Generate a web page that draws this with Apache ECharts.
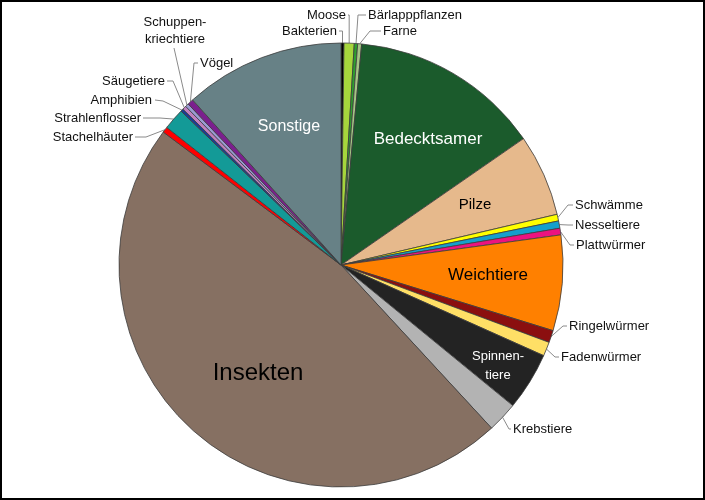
<!DOCTYPE html>
<html><head><meta charset="utf-8">
<script src="https://cdn.jsdelivr.net/npm/echarts@6/dist/echarts.min.js"></script>
<style>html,body{margin:0;padding:0;background:#fff}#c{width:705px;height:500px}</style>
</head><body><div id="c"></div>
<script>
// Categories in clockwise order starting at 12 o'clock
const categories = ['Bakterien','Moose','Bärlapppflanzen','Farne','Bedecktsamer','Pilze','Schwämme','Nesseltiere','Plattwürmer','Weichtiere','Ringelwürmer','Fadenwürmer','Spinnentiere','Krebstiere','Insekten','Stachelhäuter','Strahlenflosser','Amphibien','Säugetiere','Schuppenkriechtiere','Vögel','Sonstige'];
// Label texts as shown
const labelTexts = ['Bakterien','Moose','Bärlapppflanzen','Farne','Bedecktsamer','Pilze','Schwämme','Nesseltiere','Plattwürmer','Weichtiere','Ringelwürmer','Fadenwürmer','Spinnen-\ntiere','Krebstiere','Insekten','Stachelhäuter','Strahlenflosser','Amphibien','Säugetiere','Schuppen-\nkriechtiere','Vögel','Sonstige'];
// Estimated shares
const values = [0.78,2.66,0.88,1.03,49.95,21.5,1.75,1.91,1.74,25.0,3.2,3.7,15.2,8.0,169.5,1.5,5.6,0.7,1.0,0.9,1.55,41.95];

const colors = ['#000000','#a6d63c','#2e9e2e','#a5c585','#1b5b2c','#e6b98c','#ffff00','#14a0cc','#ec1380','#ff8000','#8b0f0f','#ffdf66','#232323','#b3b3b3','#867062','#ff0000','#139a97','#1a3c96','#c080c0','#9b9bd3','#7b1f8e','#678186'];

const CX = 341, CY = 265, R = 222;

// label placement (text anchor, alignment, leader elbow points; null x = anchor x)
const insideLabels = {
  'Bedecktsamer': {x:428, y:139, size:17, color:'#ffffff'},
  'Pilze': {x:475, y:205, size:15, color:'#000000'},
  'Weichtiere': {x:488, y:275, size:17, color:'#000000'},
  'Spinnentiere': {x:498, y:366, size:13, color:'#ffffff', lh:19},
  'Insekten': {x:258, y:373, size:24, color:'#000000'},
  'Sonstige': {x:289, y:127, size:16, color:'#ffffff'}
};
const outsideLabels = {
  'Bakterien': {x:337, y:31, align:'right', line:[[null,31],[339,31]]},
  'Moose': {x:346, y:15, align:'right', line:[[null,15],[348,15]]},
  'Bärlapppflanzen': {x:368, y:15, align:'left', line:[[358,15],[366,15]]},
  'Farne': {x:383, y:31, align:'left', line:[[370,31],[381,31]]},
  'Schwämme': {x:575, y:205, align:'left', line:[[568,205],[573,205]]},
  'Nesseltiere': {x:575, y:225, align:'left', line:[[568,225],[573,225]]},
  'Plattwürmer': {x:576, y:245, align:'left', line:[[570,245],[574,245]]},
  'Ringelwürmer': {x:569, y:326, align:'left', line:[[563,326],[567,326]]},
  'Fadenwürmer': {x:561, y:357, align:'left', line:[[555,357],[559,357]]},
  'Krebstiere': {x:513, y:429, align:'left', line:[[509,429],[511,429]]},
  'Stachelhäuter': {x:133, y:137, align:'right', line:[[146,137],[135,137]]},
  'Strahlenflosser': {x:141, y:118, align:'right', line:[[160,118],[143,118]]},
  'Amphibien': {x:152, y:100, align:'right', line:[[163,101],[155,100]]},
  'Säugetiere': {x:165, y:81, align:'right', line:[[173,81],[167,81]]},
  'Schuppenkriechtiere': {x:175, y:31, align:'center', line:[[174,48]]},
  'Vögel': {x:200, y:63, align:'left', line:[[194,63],[198,63]]}
};

const total = values.reduce((a,b)=>a+b,0);
function anchorOf(i){
  let s = 0;
  for (let k=0;k<i;k++) s += values[k];
  const mid = (s + values[i]/2) / total * 2 * Math.PI;
  return [CX + R*Math.sin(mid), CY - R*Math.cos(mid)];
}

const FONT = '"Liberation Sans", Arial, sans-serif';
const data = categories.map((name,i)=>{
  const ins = insideLabels[name];
  const item = {name, value: values[i], itemStyle:{color: colors[i]}};
  if (ins) {
    item.label = {show:true, position:'inside', formatter: labelTexts[i], color: ins.color, fontSize: ins.size, lineHeight: ins.lh || ins.size*1.2, fontFamily: FONT, align:'center'};
    item.labelLine = {show:false};
  } else {
    item.label = {show:true, position:'outside', formatter: labelTexts[i], color:'#111111', fontSize:13, lineHeight:17, fontFamily: FONT, align:'center'};
    item.labelLine = {show:true, lineStyle:{color:'#8a8a8a', width:1}};
  }
  return item;
});

const chart = echarts.init(document.getElementById('c'), null, {renderer:'canvas'});
chart.setOption({
  animation:false,
  graphic:[{type:'rect', z:100, shape:{x:1, y:1, width:703, height:498}, style:{fill:'none', stroke:'#000', lineWidth:2}}],
  series:[{
    type:'pie',
    center:[CX, CY],
    radius:R,
    startAngle:90,
    clockwise:true,
    avoidLabelOverlap:false,
    emphasis:{disabled:true},
    itemStyle:{borderColor:'#3c3c3c', borderWidth:0.8},
    data,
    labelLayout: function(p){
      const name = categories[p.dataIndex];
      const ins = insideLabels[name];
      if (ins) return {x: ins.x, y: ins.y, align:'center', verticalAlign:'middle'};
      const L = outsideLabels[name];
      const a = anchorOf(p.dataIndex);
      const pts = [a].concat(L.line.map(q=>[q[0]==null ? a[0] : q[0], q[1]]));
      return {x: L.x, y: L.y, align: L.align, verticalAlign:'middle', labelLinePoints: pts};
    }
  }]
});
</script>
</body></html>
